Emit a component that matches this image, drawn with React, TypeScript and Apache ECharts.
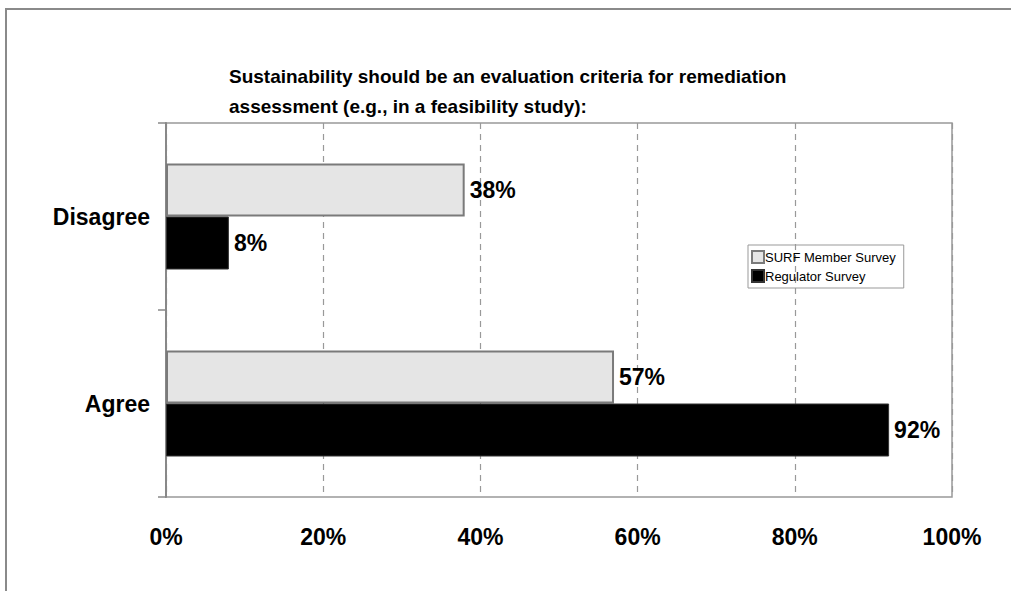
import React, { useEffect, useRef } from "react";
import * as echarts from "echarts";

const categories = ["Agree", "Disagree"];
const surfValues = [57, 38];
const regulatorValues = [92, 8];
const seriesNames = ["SURF Member Survey", "Regulator Survey"];
const titleLines = [
  "Sustainability should be an evaluation criteria for remediation",
  "assessment (e.g., in a feasibility study):",
];

const FONT = "'Liberation Sans', Arial, Helvetica, sans-serif";

export default function App() {
  const ref = useRef<HTMLDivElement>(null);
  useEffect(() => {
    if (!ref.current) return;
    const chart = echarts.init(ref.current, null, { renderer: "svg" });
    const labelStyle = {
      show: true,
      position: "right",
      distance: 5,
      formatter: "{c}%",
      fontSize: 23,
      fontWeight: "bold",
      color: "#000",
      fontFamily: FONT,
    };
    chart.setOption({
      animation: false,
      backgroundColor: "#fff",
      title: {
        text: titleLines.join("\n"),
        left: 224,
        top: 56,
        textStyle: {
          fontSize: 19,
          fontWeight: "bold",
          color: "#000",
          lineHeight: 30,
          fontFamily: FONT,
        },
      },
      graphic: [
        {
          type: "rect",
          shape: { x: 6, y: 9, width: 1100, height: 700 },
          style: { fill: "none", stroke: "#8a8a8a", lineWidth: 2 },
          silent: true,
        },
      ],
      legend: {
        orient: "vertical",
        left: 748,
        top: 245,
        itemWidth: 12,
        itemHeight: 12,
        itemGap: 5,
        padding: [5, 8, 5, 3],
        borderColor: "#999",
        borderWidth: 1,
        icon: "rect",
        textStyle: { fontSize: 13, color: "#000", fontFamily: FONT, padding: [0, 0, 0, -4] },
        data: seriesNames,
      },
      grid: {
        left: 166,
        top: 123,
        width: 786,
        height: 374,
        show: true,
        borderColor: "#999",
        borderWidth: 1.5,
      },
      xAxis: {
        type: "value",
        min: 0,
        max: 100,
        interval: 20,
        axisLine: { show: false },
        axisTick: { show: false },
        splitLine: { show: true, lineStyle: { type: [6, 5], color: "#999", width: 1.2 } },
        axisLabel: {
          formatter: "{value}%",
          fontSize: 23,
          fontWeight: "bold",
          color: "#000",
          margin: 28,
          fontFamily: FONT,
        },
      },
      yAxis: {
        type: "category",
        data: categories,
        axisLine: { show: true, lineStyle: { color: "#888", width: 2 } },
        axisTick: { show: true, length: 8, lineStyle: { color: "#888", width: 1.5 } },
        axisLabel: {
          fontSize: 23,
          fontWeight: "bold",
          color: "#000",
          margin: 16,
          fontFamily: FONT,
        },
      },
      series: [
        {
          name: seriesNames[0],
          type: "bar",
          data: surfValues,
          barWidth: 53,
          barGap: "0%",
          itemStyle: { color: "#e5e5e5", borderColor: "#7a7a7a", borderWidth: 2 },
          label: labelStyle,
        },
        {
          name: seriesNames[1],
          type: "bar",
          data: regulatorValues,
          barWidth: 53,
          barGap: "0%",
          itemStyle: { color: "#000", borderColor: "#333", borderWidth: 1 },
          label: labelStyle,
        },
      ],
    });
    return () => chart.dispose();
  }, []);
  return (
    <div
      ref={ref}
      style={{ position: "fixed", left: 0, top: 0, width: 1011, height: 591 }}
    />
  );
}
